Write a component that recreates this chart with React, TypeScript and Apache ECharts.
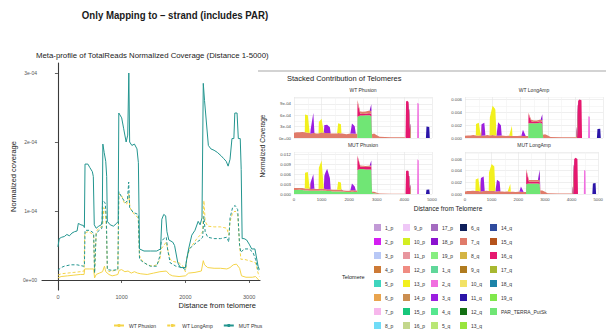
import React, { useEffect, useRef } from 'react';
import * as echarts from 'echarts';

// ---------------- texts ----------------
const SLIDE_TITLE = 'Only Mapping to \u2013 strand (includes PAR)';
const LEFT_TITLE = 'Meta-profile of TotalReads Normalized Coverage (Distance 1-5000)';
const LEFT_X_NAME = 'Distance from telomere';
const LEFT_Y_NAME = 'Normalized coverage';
const RIGHT_TITLE = 'Stacked Contribution of Telomeres';
const RIGHT_X_NAME = 'Distance from Telomere';
const RIGHT_Y_NAME = 'Normalized Coverage';
const LEGEND_TITLE = 'Telomere';

// ---------------- left chart ticks ----------------
const LEFT_X_TICKS = [0, 1000, 2000, 3000];
const LEFT_Y_TICKS = [0, 1e-4, 2e-4, 3e-4];
const LEFT_Y_LABELS = ['0e+00', '1e-04', '2e-04', '3e-04'];

// ---------------- left chart series ----------------
const LINE_NAMES = ['WT Phusion', 'WT LongAmp', 'MUT Phusion', 'MUT LongAmp'];
const LINE_COLORS = ['#F4D449', '#F4D449', '#23958F', '#23958F'];

const WT_PHUSION = [
  [0, 0.03e-4], [50, 0.05e-4], [150, 0.06e-4], [250, 0.07e-4], [350, 0.08e-4], [410, 0.08e-4], [420, 0.16e-4], [500, 0.16e-4],
  [560, 0.16e-4], [575, 0.03e-4], [600, 0.08e-4], [650, 0.1e-4], [700, 0.12e-4], [730, 0.2e-4], [750, 0.12e-4], [800, 0.08e-4],
  [850, 0.06e-4], [900, 0.07e-4], [940, 0.08e-4], [960, 0.14e-4], [1000, 0.15e-4], [1050, 0.12e-4], [1100, 0.13e-4], [1150, 0.1e-4],
  [1200, 0.12e-4], [1250, 0.1e-4], [1300, 0.09e-4], [1400, 0.08e-4], [1500, 0.1e-4], [1600, 0.12e-4], [1700, 0.13e-4], [1750, 0.08e-4],
  [1800, 0.06e-4], [1900, 0.05e-4], [2000, 0.06e-4], [2050, 0.1e-4], [2150, 0.11e-4], [2250, 0.13e-4], [2280, 0.28e-4], [2300, 0.22e-4],
  [2350, 0.18e-4], [2450, 0.17e-4], [2550, 0.17e-4], [2650, 0.16e-4], [2700, 0.18e-4], [2750, 0.22e-4], [2800, 0.23e-4], [2850, 0.17e-4],
  [2880, 0.06e-4], [2950, 0.04e-4], [3050, 0.04e-4], [3100, 0.05e-4], [3150, 0.0],
];

const WT_LONGAMP = [
  [0, 0.07e-4], [50, 0.09e-4], [150, 0.1e-4], [250, 0.11e-4], [350, 0.12e-4], [410, 0.13e-4], [420, 0.68e-4], [470, 0.7e-4],
  [520, 0.68e-4], [560, 0.65e-4], [575, 0.1e-4], [600, 0.7e-4], [640, 0.75e-4], [700, 0.78e-4], [720, 1.05e-4], [740, 1.0e-4],
  [760, 0.75e-4], [775, 0.15e-4], [800, 0.12e-4], [850, 0.13e-4], [900, 0.14e-4], [940, 0.15e-4], [955, 1.25e-4], [1000, 1.22e-4],
  [1040, 1.12e-4], [1080, 1.1e-4], [1110, 1.25e-4], [1130, 1.05e-4], [1160, 1.0e-4], [1200, 0.95e-4], [1260, 0.9e-4], [1280, 0.35e-4],
  [1320, 0.28e-4], [1400, 0.22e-4], [1480, 0.2e-4], [1550, 0.22e-4], [1600, 0.3e-4], [1620, 0.45e-4], [1660, 0.5e-4], [1700, 0.55e-4],
  [1720, 0.45e-4], [1760, 0.3e-4], [1800, 0.27e-4], [1900, 0.25e-4], [1960, 0.2e-4], [2000, 0.12e-4], [2020, 0.3e-4], [2060, 0.45e-4],
  [2120, 0.52e-4], [2180, 0.6e-4], [2230, 0.65e-4], [2270, 0.7e-4], [2290, 1.15e-4], [2310, 0.85e-4], [2350, 0.78e-4], [2450, 0.77e-4],
  [2550, 0.77e-4], [2650, 0.75e-4], [2680, 0.65e-4], [2700, 0.85e-4], [2740, 0.97e-4], [2780, 1.0e-4], [2820, 0.95e-4], [2850, 0.5e-4],
  [2870, 0.3e-4], [2920, 0.3e-4], [3000, 0.28e-4], [3100, 0.25e-4], [3140, 0.1e-4], [3160, 0.05e-4],
];

const MUT_PHUSION = [
  [0, 0.48e-4], [20, 0.6e-4], [60, 0.62e-4], [100, 0.63e-4], [140, 0.66e-4], [180, 0.64e-4], [220, 0.68e-4], [260, 0.7e-4],
  [300, 0.71e-4], [320, 0.82e-4], [360, 0.8e-4], [400, 0.79e-4], [415, 0.76e-4], [425, 1.68e-4], [470, 1.68e-4], [500, 1.63e-4],
  [540, 1.57e-4], [555, 1.5e-4], [570, 0.8e-4], [600, 0.75e-4], [640, 0.78e-4], [680, 0.8e-4], [695, 0.85e-4], [705, 1.97e-4],
  [725, 1.85e-4], [750, 1.72e-4], [765, 1.5e-4], [775, 0.85e-4], [820, 0.8e-4], [870, 0.78e-4], [920, 0.82e-4], [945, 0.85e-4],
  [955, 2.42e-4], [1000, 2.35e-4], [1030, 2.2e-4], [1070, 2.0e-4], [1095, 2.1e-4], [1112, 3.0e-4], [1125, 2.0e-4], [1160, 1.95e-4],
  [1200, 1.97e-4], [1240, 1.9e-4], [1262, 1.7e-4], [1280, 0.45e-4], [1350, 0.42e-4], [1450, 0.42e-4], [1550, 0.42e-4], [1610, 0.45e-4],
  [1630, 0.88e-4], [1660, 0.95e-4], [1690, 0.93e-4], [1710, 0.7e-4], [1740, 0.58e-4], [1800, 0.55e-4], [1830, 0.5e-4], [1880, 0.25e-4],
  [1920, 0.18e-4], [2000, 0.18e-4], [2020, 0.3e-4], [2050, 0.45e-4], [2100, 0.65e-4], [2150, 0.72e-4], [2200, 0.85e-4], [2230, 0.8e-4],
  [2260, 0.9e-4], [2280, 2.85e-4], [2300, 2.6e-4], [2360, 1.95e-4], [2400, 1.9e-4], [2450, 1.88e-4], [2500, 1.85e-4], [2560, 1.8e-4],
  [2600, 1.76e-4], [2640, 1.72e-4], [2670, 1.65e-4], [2700, 1.75e-4], [2730, 2.05e-4], [2760, 2.05e-4], [2775, 2.42e-4], [2810, 2.42e-4],
  [2830, 2.05e-4], [2860, 2.05e-4], [2875, 1.6e-4], [2890, 0.6e-4], [2920, 0.6e-4], [2960, 0.58e-4], [3000, 0.52e-4], [3040, 0.45e-4],
  [3090, 0.45e-4], [3110, 0.35e-4], [3140, 0.2e-4], [3160, 0.15e-4],
];

const MUT_LONGAMP = [
  [0, 0.14e-4], [50, 0.18e-4], [100, 0.2e-4], [200, 0.22e-4], [300, 0.22e-4], [400, 0.2e-4], [415, 0.2e-4], [425, 0.72e-4],
  [500, 0.72e-4], [560, 0.68e-4], [575, 0.1e-4], [600, 0.68e-4], [650, 0.72e-4], [690, 0.75e-4], [700, 1.15e-4], [740, 1.12e-4],
  [760, 0.9e-4], [775, 0.15e-4], [850, 0.14e-4], [940, 0.15e-4], [955, 1.28e-4], [1000, 1.2e-4], [1060, 1.12e-4], [1090, 1.15e-4],
  [1110, 1.42e-4], [1125, 1.05e-4], [1180, 0.98e-4], [1260, 0.95e-4], [1280, 0.3e-4], [1350, 0.25e-4], [1450, 0.2e-4], [1550, 0.2e-4],
  [1600, 0.35e-4], [1620, 0.55e-4], [1660, 0.6e-4], [1700, 0.62e-4], [1720, 0.45e-4], [1760, 0.25e-4], [1850, 0.2e-4], [1950, 0.18e-4],
  [2000, 0.15e-4], [2020, 0.3e-4], [2060, 0.45e-4], [2120, 0.5e-4], [2180, 0.55e-4], [2230, 0.58e-4], [2270, 0.62e-4], [2290, 0.92e-4],
  [2310, 0.7e-4], [2350, 0.62e-4], [2450, 0.6e-4], [2550, 0.6e-4], [2650, 0.62e-4], [2680, 0.55e-4], [2700, 0.9e-4], [2740, 1.05e-4],
  [2780, 1.08e-4], [2820, 1.02e-4], [2850, 0.5e-4], [2870, 0.4e-4], [2920, 0.45e-4], [3000, 0.45e-4], [3060, 0.4e-4], [3100, 0.3e-4],
  [3140, 0.15e-4], [3160, 0.12e-4],
];

// ---------------- facets ----------------
const FACETS = ['WT Phusion', 'WT LongAmp', 'MUT Phusion', 'MUT LongAmp'];
const FACET_X_TICKS = [0, 1000, 2000, 3000, 4000, 5000];
const FACET_Y_TICKS = [
  [0, 3e-4, 6e-4, 9e-4],
  [0, 0.002, 0.004, 0.006],
  [0, 0.003, 0.006, 0.009, 0.012],
  [0, 0.002, 0.004, 0.006],
];
const FACET_Y_LABELS = [
  ['0e+00', '3e-04', '6e-04', '9e-04'],
  ['0.000', '0.002', '0.004', '0.006'],
  ['0.000', '0.003', '0.006', '0.009', '0.012'],
  ['0.000', '0.002', '0.004', '0.006'],
];

// distances (bp) at which every stacked layer is sampled
const FACET_X = [
  0, 100, 200, 300, 390, 400, 500, 570, 590, 600, 700, 740, 800, 890, 900, 1000, 1080, 1100, 1140, 1200, 1300, 1330,
  1400, 1500, 1560, 1600, 1700, 1720, 1800, 1900, 2000, 2040, 2100, 2200, 2240, 2290, 2300, 2400, 2500, 2600, 2700,
  2740, 2800, 2830, 2900, 3000, 3100, 3500, 4000, 4040, 4060, 4100, 4150, 4220, 4240, 4460, 4470, 4520, 4530, 4780,
  4800, 4900, 4920, 5000,
];

const TELOMERES = [
  '1_p', '2_p', '3_p', '4_p', '5_p', '6_p', '7_p', '8_p',
  '9_p', '10_p', '11_p', '12_p', '13_p', '14_p', '15_p', '16_p',
  '17_p', '18_p', '19_p', '1_q', '2_q', '3_q', '4_q', '5_q',
  '6_q', '7_q', '8_q', '9_q', '10_q', '11_q', '12_q', '13_q',
  '14_q', '15_q', '16_q', '17_q', '18_q', '19_q', 'PAR_TERRA_PutSk',
];
const TELOMERE_COLORS = [
  '#C29AD6', '#D41EF2', '#B8C8F6', '#CD7A36', '#3FD5BE', '#E9A44E', '#F7B7EC', '#70DCF7',
  '#EFC8F7', '#D3EE22', '#E8969F', '#F08C82', '#F2F01E', '#CB8E50', '#17C77B', '#C3D78C',
  '#A46BC0', '#8B12CF', '#86EE80', '#60D79A', '#F06EDF', '#9B1EE0', '#56E78F', '#B9E776',
  '#0E1F5B', '#E07B6A', '#D4B443', '#B07B1F', '#F2E265', '#2B15A8', '#137013', '#99E53D',
  '#2F4B9E', '#B5531B', '#E6186F', '#A8B830', '#1C83A8', '#80E84C', '#70E675',
];

// WT Phusion layers (normalized coverage)
const wtPhu_7q = [
  [0, 1.4e-4], [100, 1.5e-4], [200, 1.5e-4], [300, 1.6e-4], [390, 1.5e-4], [400, 1.5e-4], [500, 1.4e-4], [570, 1.3e-4],
  [590, 1.1e-4], [600, 1.1e-4], [700, 1.3e-4], [740, 1.3e-4], [800, 1.2e-4], [890, 1.2e-4], [900, 1.2e-4], [1000, 1.5e-4],
  [1080, 1.4e-4], [1100, 1.4e-4], [1140, 1.3e-4], [1200, 1.3e-4], [1300, 1.3e-4], [1330, 1.2e-4], [1400, 1.2e-4], [1500, 1.2e-4],
  [1560, 1.2e-4], [1600, 1.3e-4], [1700, 1.2e-4], [1720, 1.2e-4], [1800, 1.1e-4], [1900, 1.0e-4], [2000, 1.1e-4], [2040, 1.1e-4],
  [2100, 1.2e-4], [2200, 1.1e-4], [2240, 1.1e-4], [2290, 1.1e-4], [2300, 0.7e-4], [2400, 0.6e-4], [2500, 0.6e-4], [2600, 0.6e-4],
  [2700, 0.7e-4], [2740, 0.7e-4], [2800, 0.8e-4], [2830, 1.0e-4], [2900, 1.2e-4], [3000, 0.7e-4], [3100, 0.3e-4], [3500, 0.2e-4],
  [4000, 0.2e-4],
];
const wtPhu_PAR = [[2300, 5.6e-4], [2400, 5.9e-4], [2500, 5.9e-4], [2600, 6.0e-4], [2700, 6.0e-4], [2740, 6.0e-4], [2800, 5.7e-4]];
const wtPhu_16q = [[2300, 3.7e-4], [2400, 0.5e-4], [2500, 0.4e-4], [2600, 0.4e-4], [2700, 0.5e-4], [2740, 0.5e-4], [2800, 0.6e-4], [4060, 9.6e-4], [4100, 9.8e-4], [4150, 9.5e-4]];
const wtPhu_11q = [[4800, 3.0e-4], [4900, 2.9e-4]];
const wtPhu_3q = [[600, 1.0e-4], [700, 5.3e-4], [1100, 2.0e-4], [1140, 2.1e-4], [1200, 2.2e-4], [1300, 1.5e-4], [2100, 2.6e-4], [2200, 2.0e-4]];
const wtPhu_2q = [[4470, 9.3e-4], [4520, 9.0e-4]];
const wtPhu_18p = [[2800, 1.8e-4]];
const wtPhu_13p = [[400, 4.7e-4], [500, 4.6e-4], [900, 3.0e-4], [1000, 3.6e-4], [1600, 2.6e-4], [1700, 2.4e-4]];

// WT LongAmp layers
const wtLong_7q = [
  [0, 0.35e-3], [100, 0.4e-3], [200, 0.4e-3], [300, 0.45e-3], [390, 0.4e-3], [400, 0.4e-3], [500, 0.4e-3], [570, 0.4e-3],
  [590, 0.35e-3], [600, 0.35e-3], [700, 0.4e-3], [740, 0.4e-3], [800, 0.45e-3], [890, 0.4e-3], [900, 0.4e-3], [1000, 0.45e-3],
  [1080, 0.4e-3], [1100, 0.4e-3], [1140, 0.4e-3], [1200, 0.35e-3], [1300, 0.4e-3], [1330, 0.4e-3], [1400, 0.35e-3], [1500, 0.3e-3],
  [1560, 0.35e-3], [1600, 0.35e-3], [1700, 0.3e-3], [1720, 0.3e-3], [1800, 0.3e-3], [1900, 0.3e-3], [2000, 0.35e-3], [2040, 0.35e-3],
  [2100, 0.3e-3], [2200, 0.3e-3], [2240, 0.3e-3], [2290, 0.3e-3], [2300, 0.25e-3], [2400, 0.25e-3], [2500, 0.25e-3], [2600, 0.25e-3],
  [2700, 0.25e-3], [2740, 0.25e-3], [2800, 0.3e-3], [2830, 0.5e-3], [2900, 0.6e-3], [3000, 0.4e-3], [3100, 0.15e-3], [3500, 0.1e-3],
  [4000, 0.1e-3],
];
const wtLong_PAR = [[2300, 2.3e-3], [2400, 2.3e-3], [2500, 2.3e-3], [2600, 2.3e-3], [2700, 2.4e-3], [2740, 2.4e-3], [2800, 2.2e-3]];
const wtLong_16q = [[2300, 1.4e-3], [2400, 0.3e-3], [2500, 0.2e-3], [2600, 0.2e-3], [2700, 0.2e-3], [2740, 0.2e-3], [2800, 0.3e-3], [4100, 5.8e-3], [4150, 6.0e-3], [4220, 5.9e-3]];
const wtLong_11q = [[4800, 1.4e-3], [4900, 1.45e-3]];
const wtLong_3q = [[600, 1.8e-3], [700, 2.0e-3], [1200, 2.1e-3], [1300, 1.6e-3], [2100, 1.0e-3]];
const wtLong_2q = [[4470, 3.4e-3], [4520, 3.3e-3]];
const wtLong_18p = [[2800, 0.9e-3]];
const wtLong_13p = [[400, 1.8e-3], [500, 2.0e-3], [900, 2.8e-3], [1000, 4.6e-3], [1080, 4.2e-3], [1100, 4.0e-3], [1700, 1.6e-3]];

// MUT Phusion layers
const mutPhu_PAR = [
  [0, 1.2e-3], [100, 1.2e-3], [200, 1.3e-3], [300, 1.2e-3], [390, 1.1e-3], [400, 1.1e-3], [500, 1.1e-3], [570, 1.0e-3],
  [590, 1.0e-3], [600, 1.0e-3], [700, 1.0e-3], [740, 1.0e-3], [800, 1.0e-3], [890, 1.0e-3], [900, 1.0e-3], [1000, 1.1e-3],
  [1080, 1.0e-3], [1100, 1.0e-3], [1140, 1.0e-3], [1200, 0.9e-3], [1300, 0.9e-3], [1330, 0.9e-3], [1400, 0.8e-3], [1500, 0.8e-3],
  [1560, 0.8e-3], [1600, 0.8e-3], [1700, 0.8e-3], [1720, 0.8e-3], [1800, 0.7e-3], [1900, 0.6e-3], [2000, 0.6e-3], [2040, 0.6e-3],
  [2100, 0.7e-3], [2200, 0.6e-3], [2240, 0.6e-3], [2290, 0.6e-3], [2300, 7.3e-3], [2400, 7.6e-3], [2500, 7.6e-3], [2600, 7.5e-3],
  [2700, 7.5e-3], [2740, 7.5e-3], [2800, 7.4e-3], [2830, 0.3e-3], [2900, 0.2e-3], [3000, 0.1e-3],
];
const mutPhu_7q = [
  [0, 0.6e-3], [100, 0.6e-3], [200, 0.5e-3], [300, 0.6e-3], [390, 0.6e-3], [400, 0.6e-3], [500, 0.6e-3], [570, 0.55e-3],
  [590, 0.5e-3], [600, 0.5e-3], [700, 0.6e-3], [740, 0.6e-3], [800, 0.5e-3], [890, 0.5e-3], [900, 0.5e-3], [1000, 0.6e-3],
  [1080, 0.6e-3], [1100, 0.6e-3], [1140, 0.55e-3], [1200, 0.5e-3], [1300, 0.5e-3], [1330, 0.5e-3], [1400, 0.5e-3], [1500, 0.5e-3],
  [1560, 0.5e-3], [1600, 0.5e-3], [1700, 0.5e-3], [1720, 0.5e-3], [1800, 0.4e-3], [1900, 0.4e-3], [2000, 0.4e-3], [2040, 0.45e-3],
  [2100, 0.5e-3], [2200, 0.5e-3], [2240, 0.5e-3], [2290, 0.5e-3], [2300, 0.3e-3], [2400, 0.3e-3], [2500, 0.3e-3], [2600, 0.3e-3],
  [2700, 0.3e-3], [2740, 0.3e-3], [2800, 0.4e-3], [2830, 0.4e-3], [2900, 0.5e-3], [3000, 0.3e-3], [3100, 0.15e-3], [3500, 0.1e-3],
  [4000, 0.1e-3],
];
const mutPhu_16q = [[2300, 4.2e-3], [2400, 0.8e-3], [2500, 0.7e-3], [2600, 0.7e-3], [2700, 0.8e-3], [2740, 0.8e-3], [2800, 0.9e-3], [4060, 7.0e-3], [4100, 7.2e-3], [4150, 7.0e-3]];
const mutPhu_11q = [[4800, 1.3e-3], [4900, 1.4e-3]];
const mutPhu_3q = [[600, 2.0e-3], [700, 4.4e-3], [1100, 4.0e-3], [1140, 5.0e-3], [1200, 6.3e-3], [1300, 3.5e-3], [2100, 2.0e-3], [2200, 1.2e-3]];
const mutPhu_2q = [[4470, 10.6e-3], [4520, 10.2e-3]];
const mutPhu_18p = [[2800, 1.5e-3]];
const mutPhu_13p = [[400, 4.8e-3], [500, 5.0e-3], [900, 6.5e-3], [1000, 8.5e-3], [1600, 2.4e-3], [1700, 2.2e-3]];

// MUT LongAmp layers
const mutLong_7q = [
  [0, 0.45e-3], [100, 0.5e-3], [200, 0.5e-3], [300, 0.55e-3], [390, 0.5e-3], [400, 0.5e-3], [500, 0.5e-3], [570, 0.45e-3],
  [590, 0.45e-3], [600, 0.45e-3], [700, 0.5e-3], [740, 0.5e-3], [800, 0.55e-3], [890, 0.5e-3], [900, 0.5e-3], [1000, 0.55e-3],
  [1080, 0.5e-3], [1100, 0.5e-3], [1140, 0.45e-3], [1200, 0.45e-3], [1300, 0.5e-3], [1330, 0.45e-3], [1400, 0.45e-3], [1500, 0.4e-3],
  [1560, 0.45e-3], [1600, 0.45e-3], [1700, 0.4e-3], [1720, 0.4e-3], [1800, 0.4e-3], [1900, 0.35e-3], [2000, 0.4e-3], [2040, 0.4e-3],
  [2100, 0.4e-3], [2200, 0.35e-3], [2240, 0.35e-3], [2290, 0.35e-3], [2300, 0.3e-3], [2400, 0.3e-3], [2500, 0.3e-3], [2600, 0.3e-3],
  [2700, 0.3e-3], [2740, 0.3e-3], [2800, 0.35e-3], [2830, 0.6e-3], [2900, 0.6e-3], [3000, 0.4e-3], [3100, 0.15e-3], [3500, 0.1e-3],
  [4000, 0.1e-3],
];
const mutLong_PAR = [[2300, 1.7e-3], [2400, 1.8e-3], [2500, 1.8e-3], [2600, 1.8e-3], [2700, 1.8e-3], [2740, 1.8e-3], [2800, 1.7e-3]];
const mutLong_16q = [[2300, 2.3e-3], [2400, 0.3e-3], [2500, 0.3e-3], [2600, 0.3e-3], [2700, 0.3e-3], [2740, 0.3e-3], [2800, 0.4e-3], [4100, 6.0e-3], [4150, 6.2e-3], [4220, 6.0e-3]];
const mutLong_11q = [[4800, 1.8e-3], [4900, 1.9e-3]];
const mutLong_3q = [[600, 2.3e-3], [700, 2.5e-3], [1200, 2.0e-3], [1300, 1.6e-3], [2100, 0.9e-3]];
const mutLong_2q = [[4470, 4.1e-3], [4520, 4.0e-3]];
const mutLong_18p = [[2800, 1.7e-3]];
const mutLong_13p = [[400, 2.0e-3], [500, 2.2e-3], [900, 3.2e-3], [1000, 4.6e-3], [1080, 4.3e-3], [1100, 4.2e-3], [1700, 1.3e-3]];

// table of layers per facet, built from the arrays above
const FACET_LAYERS: Record<string, number[][]>[] = [
  { PAR_TERRA_PutSk: wtPhu_PAR, '16_q': wtPhu_16q, '11_q': wtPhu_11q, '7_q': wtPhu_7q, '3_q': wtPhu_3q, '2_q': wtPhu_2q, '18_p': wtPhu_18p, '13_p': wtPhu_13p },
  { PAR_TERRA_PutSk: wtLong_PAR, '16_q': wtLong_16q, '11_q': wtLong_11q, '7_q': wtLong_7q, '3_q': wtLong_3q, '2_q': wtLong_2q, '18_p': wtLong_18p, '13_p': wtLong_13p },
  { PAR_TERRA_PutSk: mutPhu_PAR, '16_q': mutPhu_16q, '11_q': mutPhu_11q, '7_q': mutPhu_7q, '3_q': mutPhu_3q, '2_q': mutPhu_2q, '18_p': mutPhu_18p, '13_p': mutPhu_13p },
  { PAR_TERRA_PutSk: mutLong_PAR, '16_q': mutLong_16q, '11_q': mutLong_11q, '7_q': mutLong_7q, '3_q': mutLong_3q, '2_q': mutLong_2q, '18_p': mutLong_18p, '13_p': mutLong_13p },
];

// ---------------- layout / style ----------------
const FONT = '"Liberation Sans", Arial, sans-serif';
const FACET_GRIDS = [
  { left: 294, top: 97, width: 138, height: 41 },
  { left: 465, top: 97, width: 138, height: 41 },
  { left: 294, top: 152, width: 138, height: 42 },
  { left: 465, top: 152, width: 138, height: 42 },
];
const FACET_Y_MAX = [1.08e-3, 6.4e-3, 12.8e-3, 7.2e-3];
const FACET_Y_STEP = [1.5e-4, 1e-3, 1.5e-3, 1e-3];
const LEGEND_COL_X = [374, 403, 431, 460, 490];

// coverage first, distance second, so that ECharts stacks the coverage dimension
function onGrid(points: number[][]) {
  const m = new Map<number, number>();
  points.forEach((p) => m.set(p[0], p[1]));
  return FACET_X.map((x) => [m.has(x) ? (m.get(x) as number) : 0, x]);
}

function buildOption() {
  const lineSeries = [WT_PHUSION, WT_LONGAMP, MUT_PHUSION, MUT_LONGAMP].map((d, i) => ({
    type: 'line',
    name: LINE_NAMES[i],
    xAxisIndex: 0,
    yAxisIndex: 0,
    data: d,
    symbol: 'none',
    showSymbol: false,
    color: LINE_COLORS[i],
    lineStyle: { color: LINE_COLORS[i], width: 1, type: i % 2 === 1 ? [3, 2] : 'solid' },
    z: 3 + i,
  }));

  const areaSeries: any[] = [];
  FACETS.forEach((_, f) => {
    const layers = FACET_LAYERS[f];
    for (let k = TELOMERES.length - 1; k >= 0; k--) {
      const name = TELOMERES[k];
      const pts = layers[name];
      if (!pts && f > 0) continue;
      areaSeries.push({
        type: 'line',
        name,
        xAxisIndex: f + 1,
        yAxisIndex: f + 1,
        stack: 'facet' + f,
        dimensions: ['coverage', 'distance'],
        encode: { x: 'distance', y: 'coverage' },
        data: pts ? onGrid(pts) : [],
        symbol: 'none',
        showSymbol: false,
        color: TELOMERE_COLORS[k],
        lineStyle: { width: 0 },
        areaStyle: { color: TELOMERE_COLORS[k], opacity: 1 },
        z: 2,
      });
    }
  });

  const facetX = FACETS.map((_, f) => ({
    type: 'value',
    gridIndex: f + 1,
    min: 0,
    max: 5000,
    interval: 500,
    axisLine: { show: false },
    axisTick: { show: false },
    axisLabel: {
      show: f >= 2,
      fontSize: 4.3,
      color: '#4d4d4d',
      margin: 3,
      formatter: (v: number) => (FACET_X_TICKS.indexOf(v) >= 0 ? String(v) : ''),
    },
    splitLine: { show: true, lineStyle: { color: ['#e4e4e4', '#f1f1f1'], width: 0.6 } },
  }));
  const facetY = FACETS.map((_, f) => ({
    type: 'value',
    gridIndex: f + 1,
    min: 0,
    max: FACET_Y_MAX[f],
    interval: FACET_Y_STEP[f],
    axisLine: { show: false },
    axisTick: { show: false },
    axisLabel: {
      fontSize: 4.3,
      color: '#4d4d4d',
      margin: 3,
      formatter: (v: number) => {
        const i = FACET_Y_TICKS[f].findIndex((t) => Math.abs(t - v) < FACET_Y_STEP[f] * 0.01);
        return i >= 0 ? FACET_Y_LABELS[f][i] : '';
      },
    },
    splitLine: { show: true, lineStyle: { color: ['#e4e4e4', '#f1f1f1'], width: 0.6 } },
  }));

  const telomereLegends = [0, 1, 2, 3, 4].map((c) => ({
    data: TELOMERES.slice(c * 8, c * 8 + 8),
    orient: 'vertical',
    left: LEGEND_COL_X[c],
    top: 224,
    icon: 'rect',
    itemWidth: 7,
    itemHeight: 7,
    itemGap: 7,
    padding: 0,
    selectedMode: false,
    itemStyle: { borderWidth: 0 },
    textStyle: { fontSize: 5, color: '#333', fontFamily: FONT, padding: [0, 0, 0, -1] },
  }));

  const facetTitles = FACETS.map((name, f) => ({
    type: 'text',
    x: FACET_GRIDS[f].left + FACET_GRIDS[f].width / 2,
    y: FACET_GRIDS[f].top - 7,
    style: { text: name, fill: '#333', fontSize: 5, fontFamily: FONT, textAlign: 'center', textVerticalAlign: 'middle', align: 'center', verticalAlign: 'middle' },
  }));

  return {
    animation: false,
    backgroundColor: '#ffffff',
    textStyle: { fontFamily: FONT },
    grid: [
      { left: 42, top: 63, width: 218, height: 227 },
      ...FACET_GRIDS,
    ],
    xAxis: [
      {
        type: 'value',
        gridIndex: 0,
        min: -250,
        max: 3170,
        axisLine: { show: true, lineStyle: { color: '#3a3a3a', width: 1.1 } },
        axisTick: { show: true, customValues: LEFT_X_TICKS, length: 3, lineStyle: { color: '#3a3a3a', width: 0.8 } },
        axisLabel: { customValues: LEFT_X_TICKS, fontSize: 5.5, color: '#555', margin: 4, formatter: (v: number) => String(v) },
        splitLine: { show: false },
      },
      ...facetX,
    ],
    yAxis: [
      {
        type: 'value',
        gridIndex: 0,
        min: -0.145e-4,
        max: 3.145e-4,
        name: LEFT_Y_NAME,
        nameLocation: 'middle',
        nameGap: 25,
        nameTextStyle: { fontSize: 7.5, color: '#222' },
        axisLine: { show: true, lineStyle: { color: '#3a3a3a', width: 1.1 } },
        axisTick: { show: true, customValues: LEFT_Y_TICKS, length: 3, lineStyle: { color: '#3a3a3a', width: 0.8 } },
        axisLabel: {
          customValues: LEFT_Y_TICKS,
          fontSize: 5,
          color: '#555',
          margin: 5,
          formatter: (v: number) => {
            const i = LEFT_Y_TICKS.findIndex((t) => Math.abs(t - v) < 1e-9);
            return i >= 0 ? LEFT_Y_LABELS[i] : '';
          },
        },
        splitLine: { show: false },
      },
      ...facetY,
    ],
    legend: [
      {
        data: [
          { name: 'WT Phusion' },
          { name: 'WT LongAmp' },
          { name: 'MUT Phusion', textStyle: { width: 25, overflow: 'truncate', ellipsis: '' } },
        ],
        left: 113,
        top: 323,
        itemWidth: 10,
        itemHeight: 4,
        itemGap: 10,
        padding: 0,
        selectedMode: false,
        textStyle: { fontSize: 5, color: '#333', fontFamily: FONT },
      },
      ...telomereLegends,
    ],
    graphic: [
      {
        type: 'text',
        x: 175,
        y: 15,
        scaleX: 0.84,
        style: { text: SLIDE_TITLE, fill: '#1a1a1a', font: 'bold 11.5px "Liberation Sans", Arial, sans-serif', textAlign: 'center', textVerticalAlign: 'middle', align: 'center', verticalAlign: 'middle' },
      },
      {
        type: 'text',
        x: 36,
        y: 55,
        style: { text: LEFT_TITLE, fill: '#222', fontSize: 7.8, fontFamily: FONT, textAlign: 'left', textVerticalAlign: 'middle', align: 'left', verticalAlign: 'middle' },
      },
      {
        type: 'text',
        x: 256,
        y: 305,
        style: { text: LEFT_X_NAME, fill: '#222', fontSize: 7.5, fontFamily: FONT, textAlign: 'right', textVerticalAlign: 'middle', align: 'right', verticalAlign: 'middle' },
      },
      {
        type: 'line',
        shape: { x1: 258, y1: 71, x2: 606, y2: 71 },
        style: { stroke: '#c4c4c4', lineWidth: 1.5 },
      },
      {
        type: 'text',
        x: 287,
        y: 78,
        style: { text: RIGHT_TITLE, fill: '#222', fontSize: 7.5, fontFamily: FONT, textAlign: 'left', textVerticalAlign: 'middle', align: 'left', verticalAlign: 'middle' },
      },
      {
        type: 'text',
        x: 262,
        y: 146,
        rotation: Math.PI / 2,
        style: { text: RIGHT_Y_NAME, fill: '#222', fontSize: 6.5, fontFamily: FONT, textAlign: 'center', textVerticalAlign: 'middle', align: 'center', verticalAlign: 'middle' },
      },
      {
        type: 'text',
        x: 448,
        y: 208,
        style: { text: RIGHT_X_NAME, fill: '#222', fontSize: 6.5, fontFamily: FONT, textAlign: 'center', textVerticalAlign: 'middle', align: 'center', verticalAlign: 'middle' },
      },
      {
        type: 'text',
        x: 342,
        y: 277,
        style: { text: LEGEND_TITLE, fill: '#222', fontSize: 5.5, fontFamily: FONT, textAlign: 'left', textVerticalAlign: 'middle', align: 'left', verticalAlign: 'middle' },
      },
      ...facetTitles,
    ],
    series: [...lineSeries, ...areaSeries],
  };
}

export default function App() {
  const ref = useRef<HTMLDivElement>(null);
  useEffect(() => {
    if (!ref.current) return;
    const chart = echarts.init(ref.current, null, { renderer: 'svg' });
    chart.setOption(buildOption() as any);
    return () => chart.dispose();
  }, []);
  return (
    <div
      ref={ref}
      style={{ position: 'fixed', left: 0, top: 0, width: 606, height: 329, background: '#ffffff' }}
    />
  );
}
